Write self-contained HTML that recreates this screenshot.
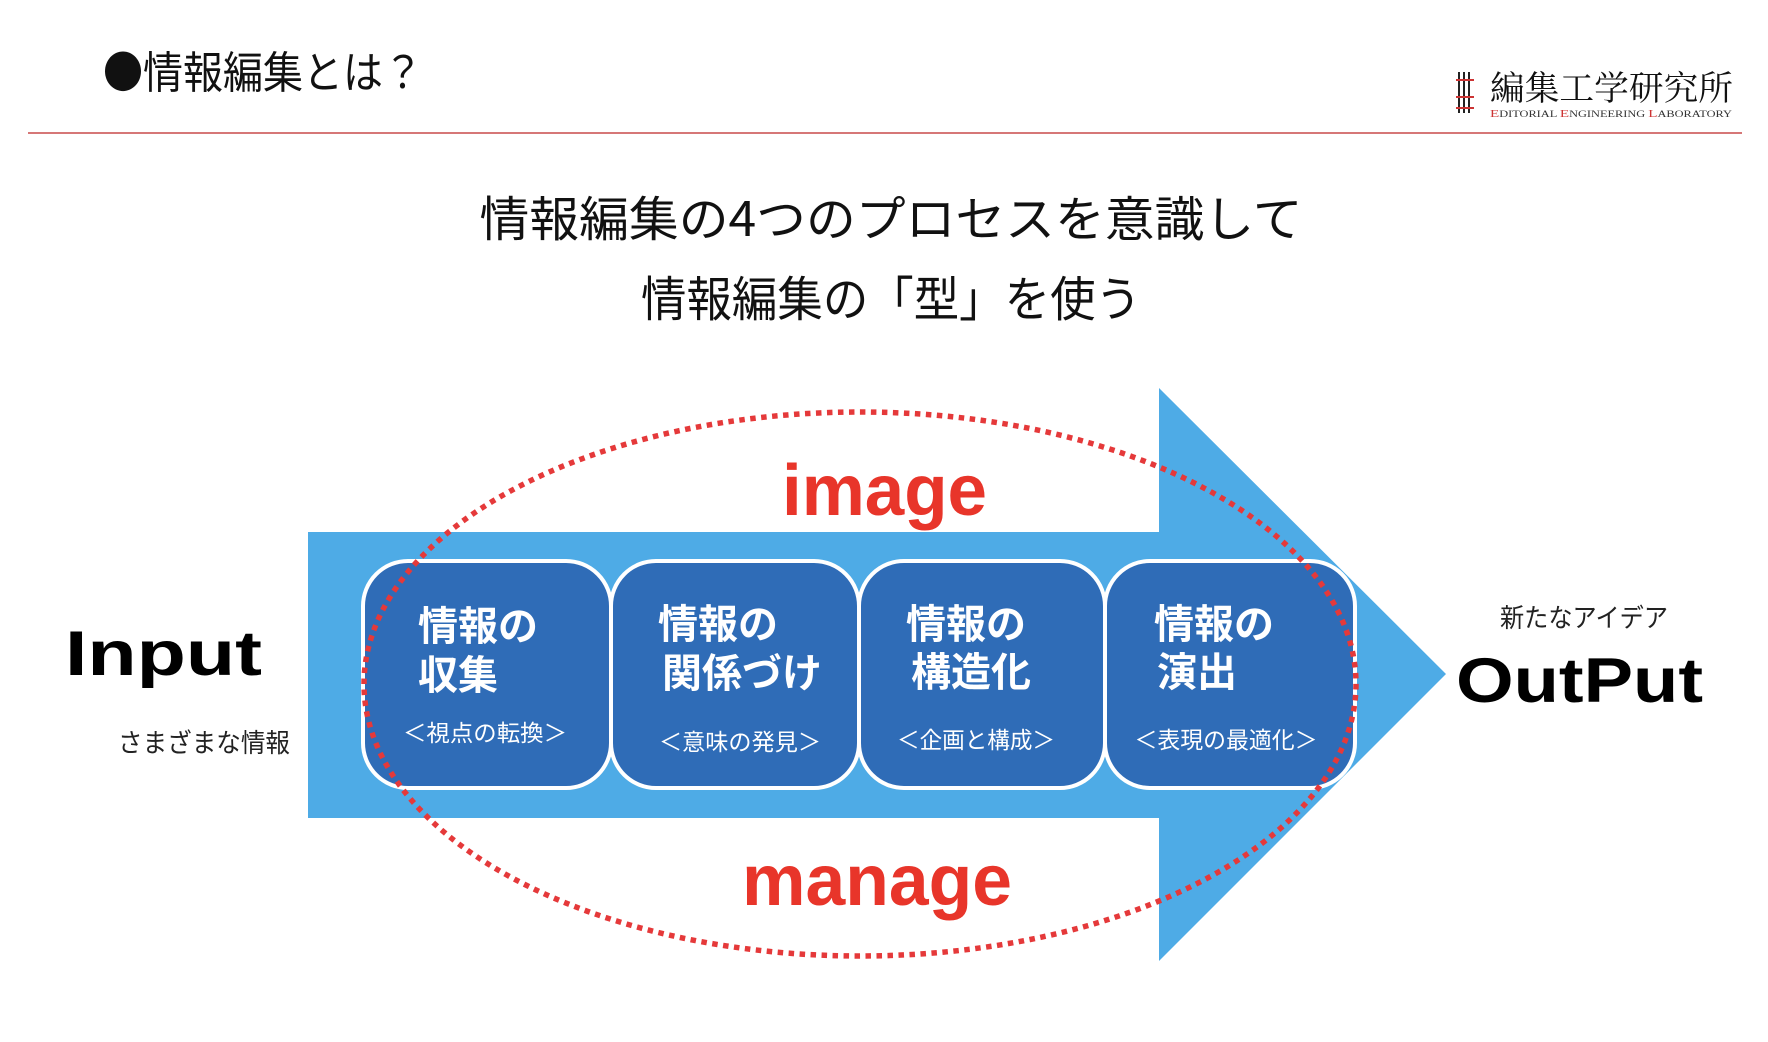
<!DOCTYPE html>
<html><head><meta charset="utf-8"><style>
html,body{margin:0;padding:0;background:#fff;width:1768px;height:1042px;overflow:hidden}
svg{display:block}
text{font-family:"Liberation Sans","Noto Sans CJK JP",sans-serif}
.jp{font-family:"Noto Sans CJK JP","Liberation Sans",sans-serif}
</style></head><body>
<svg width="1768" height="1042" viewBox="0 0 1768 1042" xmlns="http://www.w3.org/2000/svg">
<text class="jp" x="103" y="88" font-size="44" fill="#111" textLength="320" lengthAdjust="spacingAndGlyphs">●情報編集とは？</text>
<line x1="28" y1="133" x2="1742" y2="133" stroke="#c94a4a" stroke-width="1.5"/>
<g stroke="#222" stroke-width="2">
<line x1="1459" y1="72" x2="1459" y2="113"/><line x1="1464" y1="72" x2="1464" y2="113"/><line x1="1469" y1="72" x2="1469" y2="113"/>
</g>
<g stroke="#c33" stroke-width="2">
<line x1="1456" y1="80" x2="1474" y2="80"/><line x1="1456" y1="97" x2="1474" y2="97"/><line x1="1456" y1="108" x2="1474" y2="108"/>
</g>
<text x="1490" y="100" font-size="34" fill="#111" style="font-family:'Noto Serif CJK SC',serif" textLength="243" lengthAdjust="spacingAndGlyphs">編集工学研究所</text>
<text x="1490" y="117" font-size="9" fill="#333" style="font-family:'Liberation Serif',serif" textLength="242" lengthAdjust="spacingAndGlyphs"><tspan fill="#c33" font-size="11">E</tspan>DITORIAL <tspan fill="#c33" font-size="11">E</tspan>NGINEERING <tspan fill="#c33" font-size="11">L</tspan>ABORATORY</text>
<text class="jp" x="891" y="236" font-size="48" fill="#111" text-anchor="middle" textLength="823" lengthAdjust="spacingAndGlyphs">情報編集の4つのプロセスを意識して</text>
<text class="jp" x="891" y="316" font-size="48" fill="#111" text-anchor="middle" textLength="500" lengthAdjust="spacingAndGlyphs">情報編集の「型」を使う</text>
<polygon points="308,532 1159,532 1159,388 1446,674 1159,961 1159,818 308,818" fill="#4EABE6"/>
<g fill="#2F6CB7" stroke="#fff" stroke-width="4">
<rect x="363" y="561" width="248" height="227" rx="45"/>
<rect x="611" y="561" width="248" height="227" rx="45"/>
<rect x="859" y="561" width="246" height="227" rx="45"/>
<rect x="1105" y="561" width="250" height="227" rx="45"/>
</g>
<g fill="#fff" font-weight="bold" font-size="40">
<text class="jp" x="418" y="640">情報の</text><text class="jp" x="418" y="689">収集</text>
<text class="jp" x="658" y="638">情報の</text><text class="jp" x="662" y="687">関係づけ</text>
<text class="jp" x="906" y="638">情報の</text><text class="jp" x="911" y="686">構造化</text>
<text class="jp" x="1154" y="638">情報の</text><text class="jp" x="1157" y="686">演出</text>
</g>
<g fill="#fff" font-size="23" text-anchor="middle">
<text class="jp" x="485" y="741" textLength="164" lengthAdjust="spacingAndGlyphs">＜視点の転換＞</text>
<text class="jp" x="740" y="750" textLength="162" lengthAdjust="spacingAndGlyphs">＜意味の発見＞</text>
<text class="jp" x="976" y="748" textLength="158" lengthAdjust="spacingAndGlyphs">＜企画と構成＞</text>
<text class="jp" x="1226" y="748" textLength="183" lengthAdjust="spacingAndGlyphs">＜表現の最適化＞</text>
</g>
<ellipse cx="860" cy="684" rx="496" ry="272" fill="none" stroke="#E5393A" stroke-width="5.5" stroke-dasharray="5.5 5.5"/>
<text x="782" y="515" font-size="72" font-weight="bold" fill="#E8352A" textLength="205" lengthAdjust="spacingAndGlyphs">image</text>
<text x="742" y="905" font-size="72" font-weight="bold" fill="#E8352A" textLength="270" lengthAdjust="spacingAndGlyphs">manage</text>
<text x="65" y="675" font-size="63" font-weight="bold" fill="#000" textLength="197" lengthAdjust="spacingAndGlyphs">Input</text>
<text class="jp" x="118" y="752" font-size="26" fill="#222" textLength="172" lengthAdjust="spacingAndGlyphs">さまざまな情報</text>
<text class="jp" x="1500" y="627" font-size="26" fill="#222" textLength="168" lengthAdjust="spacingAndGlyphs">新たなアイデア</text>
<text x="1456" y="702" font-size="63" font-weight="bold" fill="#000" textLength="247" lengthAdjust="spacingAndGlyphs">OutPut</text>
</svg>
</body></html>
